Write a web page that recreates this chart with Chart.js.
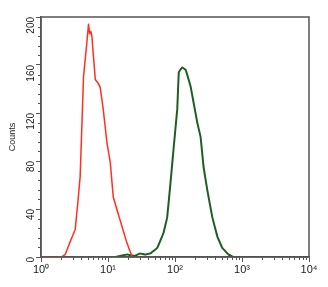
<!DOCTYPE html>
<html>
<head>
<meta charset="utf-8">
<script src="https://cdn.jsdelivr.net/npm/chart.js@4"></script>
<style>
  body { margin: 0; background: #fff; }
  canvas { display: block; }
</style>
</head>
<body>
<canvas id="myChart" width="328" height="287"></canvas>
<script>
// fluorescence intensity (log axis) and counts
const redX = [1, 2.0, 2.29, 2.69, 3.24, 3.84, 4.31, 4.84, 5.12, 5.31, 5.56, 5.75, 6.46, 7.08, 7.66, 8.49, 9.66, 10.8, 12.0, 15.1, 19.1, 22.9];
const redY = [0, 0, 2, 12, 23, 67, 150, 179, 194, 186, 188, 184, 148, 145, 141, 123, 95, 79, 50, 31, 12, 0];

const greenX = [12.9, 19.5, 25.1, 30.2, 35.5, 43.0, 54.1, 67.3, 76.4, 85.7, 95.1, 108, 114, 128, 144, 152, 171, 189, 215, 241, 267, 303, 361, 429, 509, 632, 752, 10000];
const greenY = [0, 2, 1, 3, 2, 3, 7.5, 20, 33, 62, 90, 123, 154, 158, 156, 152, 142, 129, 112, 100, 75, 56, 33, 17, 7.5, 2, 0, 0];

const xTickLabels = ['10\u2070', '10\u00b9', '10\u00b2', '10\u00b3', '10\u2074'];
const yTicks = [0, 40, 80, 120, 160, 200];

function pts(xs, ys) {
    return xs.map((x, i) => ({ x: x, y: ys[i] }));
}

// box round the plot + short minor ticks
const frame = {
    id: 'frame',
    afterDraw(chart) {
        const ctx = chart.ctx;
        const a = chart.chartArea;
        const xs = chart.scales.x, ys = chart.scales.y;
        ctx.save();
        ctx.strokeStyle = '#555';
        ctx.lineWidth = 1.5;
        ctx.strokeRect(a.left, a.top, a.right - a.left, a.bottom - a.top);
        ctx.lineWidth = 1;
        ctx.beginPath();
        for (let e = 0; e < 4; e++) {
            for (let m = 2; m < 10; m++) {
                const px = Math.round(xs.getPixelForValue(m * Math.pow(10, e))) + 0.5;
                ctx.moveTo(px, a.bottom);
                ctx.lineTo(px, a.bottom + 3);
            }
        }
        for (let v = 0; v <= 200; v += 8) {
            if (v % 40 == 0) continue;
            const py = Math.round(ys.getPixelForValue(v)) + 0.5;
            ctx.moveTo(a.left, py);
            ctx.lineTo(a.left - 3, py);
        }
        ctx.stroke();
        ctx.restore();
    }
};

const config = {
    type: 'line',
    data: {
        datasets: [{
            data: pts(redX, redY),
            borderColor: '#ff3020',
            borderWidth: 1.5,
            pointRadius: 0,
            tension: 0.05,
        }, {
            data: pts(greenX, greenY),
            borderColor: '#1f5e22',
            borderWidth: 2,
            pointRadius: 0,
            tension: 0.05,
        }]
    },
    options: {
        responsive: false,
        animation: false,
        layout: { padding: { top: 17, right: 19, left: 0, bottom: 0 } },
        plugins: {
            legend: { display: false },
            tooltip: { enabled: false }
        },
        scales: {
            x: {
                type: 'logarithmic',
                min: 1,
                max: 10000,
                afterBuildTicks: (s) => {
                    s.ticks = xTickLabels.map((t, i) => ({ value: Math.pow(10, i) }));
                },
                afterFit: (s) => { s.height = 30; },
                border: { display: true, color: '#555', width: 1.5 },
                grid: { drawOnChartArea: false, tickLength: 5, color: '#555' },
                ticks: {
                    color: '#222',
                    font: { family: 'Liberation Sans', size: 11 },
                    padding: 1,
                    maxRotation: 0,
                    callback: (v, i) => xTickLabels[i]
                }
            },
            y: {
                min: 0,
                max: 200,
                afterBuildTicks: (s) => {
                    s.ticks = yTicks.map(v => ({ value: v }));
                },
                afterFit: (s) => { s.width = 41; },
                title: {
                    display: true,
                    text: 'Counts',
                    color: '#222',
                    font: { family: 'Liberation Sans', size: 9 },
                    padding: { top: 7, bottom: 0 }
                },
                border: { display: true, color: '#555', width: 1.5 },
                grid: { drawOnChartArea: false, tickLength: 5, color: '#555' },
                ticks: {
                    color: '#222',
                    font: { family: 'Liberation Sans', size: 10 },
                    minRotation: 90,
                    maxRotation: 90,
                    padding: 5
                }
            }
        }
    },
    plugins: [frame]
};

const myChart = new Chart(document.getElementById('myChart'), config);
</script>
</body>
</html>
